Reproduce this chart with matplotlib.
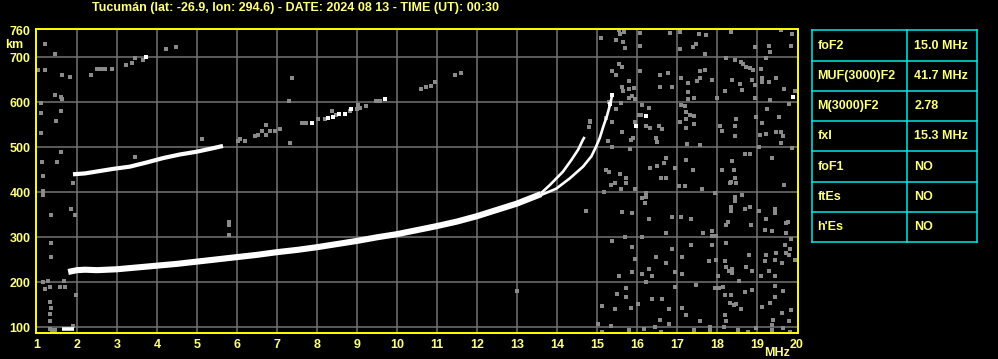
import matplotlib
matplotlib.use("Agg")
import matplotlib.pyplot as plt
from matplotlib.lines import Line2D

# ---------------- data ----------------
title = "Tucumán (lat: -26.9, lon: 294.6) - DATE: 2024 08 13 - TIME (UT): 00:30"

x_ticks = list(range(1, 21))
y_ticks = [100, 200, 300, 400, 500, 600, 700, 760]

# first-hop F2 trace (combined)
main_f = [1.78, 2.0, 2.2, 2.5, 3.0, 3.5, 4.0, 4.5, 5.0, 5.5, 6.0, 6.5, 7.0, 7.5,
          8.0, 8.5, 9.0, 9.5, 10.0, 10.5, 11.0, 11.5, 12.0, 12.5, 13.0, 13.4, 13.6]
main_km = [223, 227, 228, 227, 229, 233, 237, 241, 246, 251, 256, 261, 267, 272,
           278, 285, 292, 300, 307, 316, 325, 335, 347, 361, 375, 389, 396]

# ordinary branch near cusp
o_f = [13.6, 13.82, 14.15, 14.36, 14.53, 14.65, 14.69]
o_km = [398, 416, 446, 472, 495, 517, 523]

# extraordinary branch near cusp
x_f = [13.6, 13.98, 14.32, 14.65, 14.86, 14.98, 15.07, 15.15, 15.25, 15.33, 15.38]
x_km = [394, 408, 431, 457, 480, 502, 521, 544, 570, 596, 616]

# second-hop trace
h2_f = [1.9, 2.2, 2.48, 2.9, 3.32, 3.73, 4.15, 4.57, 4.98, 5.35, 5.65]
h2_km = [440, 442, 446, 452, 457, 466, 476, 484, 490, 497, 503]

# low-frequency echo near 100 km
e_f = [1.62, 1.92]
e_km = [97, 97]

# bright isolated echoes
white_f = [3.73, 7.88, 8.27, 8.4, 8.55, 8.69, 8.86, 9.69, 15.38, 15.33, 16.23, 15.98, 19.9]
white_km = [701, 555, 566, 568, 575, 575, 585, 607, 616, 597, 569, 548, 612]

# grey scattered echoes / noise
noise_f = [
    15.09, 15.55, 15.58, 15.68, 15.48, 15.65, 15.69, 16.08, 16.08, 16.83, 17.08, 17.08,
    17.4, 17.48, 17.55, 17.73, 17.69, 18.34, 18.94, 19.3, 19.33, 19.59, 19.88, 19.84,
    18.23, 18.44, 18.59, 18.65, 18.73, 18.83, 18.9, 19.11, 19.23, 15.55, 15.63, 15.38,
    15.48, 15.79, 15.63, 15.65, 15.79, 15.93, 15.88, 15.94, 15.8, 16.08, 16.58, 16.78,
    16.88, 16.58, 17.09, 17.28, 17.28, 17.28, 17.43, 17.58, 17.69, 17.5, 17.58, 17.88,
    18.0, 18.19, 18.38, 18.58, 18.63, 18.88, 18.94, 18.94, 19.13, 19.13, 19.29, 19.48,
    19.68, 19.94, 19.33, 15.3, 15.59, 15.48, 15.23, 14.83, 15.38, 16.13, 16.29, 16.05,
    16.09, 15.94, 16.23, 16.33, 16.54, 16.63, 16.47, 16.5, 15.9, 15.84, 15.63, 15.28,
    15.38, 15.83, 17.09, 17.19, 17.23, 17.33, 17.43, 17.22, 17.08, 17.23, 17.43, 17.26,
    17.58, 18.08, 18.13, 18.44, 18.48, 18.44, 18.98, 19.13, 19.25, 19.54, 19.48, 19.6,
    19.65, 19.08, 19.22, 19.59, 19.79, 19.88, 19.05, 18.69, 18.83, 19.38, 16.73, 16.68,
    16.5, 16.33, 17.23, 16.94, 17.4, 18.13, 18.38, 18.42, 18.44, 18.35, 15.23, 15.29,
    15.58, 15.73, 16.59, 16.72,
    14.73, 15.18, 15.34, 15.44, 15.73, 15.59, 15.94, 15.63, 15.88, 16.13, 16.23, 16.19,
    16.23, 16.29, 16.73, 16.88, 17.09, 17.34, 17.04, 17.19, 17.63, 17.94, 18.33, 18.48,
    18.44, 18.63, 18.44, 18.34, 18.34, 18.69, 18.83, 19.04, 19.44, 19.44, 19.23, 18.84,
    18.28, 18.23, 19.19, 19.38, 19.73, 19.77, 19.73, 19.68, 19.84, 17.88, 17.88, 17.98,
    17.65, 15.38, 15.69, 16.13, 15.88, 15.94, 15.88, 16.13, 16.38, 16.29, 15.54, 16.48,
    16.73, 16.88, 17.13, 16.94, 17.13, 17.34, 17.79, 17.88, 17.98, 18.03, 18.19, 18.23,
    18.23, 18.29, 18.38, 18.38, 18.54, 18.73, 18.79, 18.88, 19.09, 19.19, 19.23, 19.29,
    19.44, 19.48, 19.63, 19.73, 19.79, 19.94, 19.83, 19.69, 19.44, 16.22, 16.94, 17.48,
    17.94, 18.05, 18.16, 18.19, 18.36, 18.33, 18.42, 18.48, 18.59, 18.69, 18.88, 19.13,
    19.33, 19.44, 19.44, 19.65, 19.63, 19.84, 19.81, 19.4, 19.38, 19.38, 19.65, 19.83,
    15.73, 15.73, 15.51, 15.13, 15.44, 15.84, 16.03, 16.38, 16.63, 16.58, 16.79, 17.13,
    17.23, 17.58, 16.81, 16.44, 16.17, 15.34, 15.03, 15.13, 15.8, 16.61, 17.43, 17.83,
    17.83, 18.52, 18.78, 18.97, 18.19, 18.23, 18.18,
    1.19, 1.44, 1.02, 1.19, 1.63, 1.83, 2.34, 2.5, 2.6, 2.7, 2.88, 3.23, 3.38, 3.44,
    3.65, 4.23, 4.48, 1.44, 1.59, 1.63, 1.09, 1.59, 1.09, 1.48, 1.09, 7.38, 7.29, 7.63,
    7.73, 6.73, 7.08, 6.63, 6.83, 6.94, 6.53, 6.73, 6.44, 6.08, 6.03, 6.19, 5.13, 7.33,
    7.65, 7.73, 8.03, 8.19, 8.38, 8.48, 8.82, 9.0, 9.03, 9.07, 9.23, 9.48, 9.57, 10.61,
    10.73, 10.84, 10.94, 11.44, 11.59, 14.8, 14.83,
    1.19, 1.33, 1.57, 1.71, 1.98, 1.33, 1.35, 1.33, 1.33, 1.32, 1.9, 13.0, 1.6, 1.12,
    1.49, 1.14, 1.89, 1.14, 1.14, 1.84, 1.95, 1.34, 5.8, 5.8, 5.8, 1.34, 1.34, 1.14,
    1.28, 1.67, 3.45, 1.46, 1.38, 1.45
]
noise_km = [
    743, 761, 751, 756, 739, 734, 721, 754, 725, 754, 756, 719,
    722, 730, 752, 749, 707, 756, 722, 726, 711, 761, 752, 725,
    698, 693, 690, 685, 679, 676, 672, 674, 698, 685, 679, 670,
    660, 648, 633, 624, 629, 631, 614, 608, 610, 670, 660, 665,
    635, 633, 655, 643, 622, 608, 609, 670, 672, 648, 653, 649,
    610, 625, 650, 640, 627, 650, 639, 610, 654, 644, 645, 655,
    629, 625, 604, 601, 599, 584, 566, 557, 556, 593, 588, 572,
    571, 557, 547, 543, 548, 540, 521, 511, 521, 517, 534, 515,
    500, 497, 594, 592, 579, 572, 569, 562, 557, 543, 551, 507,
    504, 548, 536, 548, 562, 526, 567, 553, 584, 567, 534, 534,
    525, 527, 530, 510, 597, 499, 500, 485, 485, 476, 476, 465,
    459, 455, 472, 454, 450, 450, 469, 450, 431, 424, 449, 446,
    441, 431, 431, 431,
    359, 401, 416, 421, 421, 407, 407, 357, 355, 387, 390, 377,
    398, 341, 310, 346, 346, 340, 413, 413, 407, 399, 420, 421,
    390, 394, 381, 368, 359, 363, 368, 359, 364, 355, 341, 327,
    333, 327, 316, 313, 331, 335, 309, 416, 296, 313, 303, 303,
    310, 292, 300, 301, 279, 252, 224, 219, 214, 230, 213, 257,
    244, 274, 257, 224, 219, 283, 248, 283, 250, 214, 248, 288,
    233, 226, 229, 221, 204, 233, 261, 226, 213, 248, 261, 226,
    250, 266, 242, 266, 261, 250, 273, 283, 213, 201, 190, 194,
    187, 187, 190, 172, 172, 153, 150, 152, 140, 179, 184, 146,
    155, 192, 168, 181, 131, 138, 113, 116, 94, 105, 98, 90,
    187, 168, 173, 147, 140, 144, 152, 164, 164, 116, 140, 144,
    127, 113, 107, 101, 96, 103, 107, 90, 94, 90, 95, 101,
    92, 94, 90, 98, 127, 113, 101,
    730, 708, 671, 671, 661, 656, 661, 675, 675, 675, 675, 682, 688, 699,
    693, 719, 723, 617, 612, 608, 599, 581, 576, 559, 532, 653, 603, 554,
    554, 550, 541, 536, 536, 536, 528, 528, 524, 519, 514, 514, 519, 510,
    553, 553, 563, 563, 580, 572, 580, 585, 595, 587, 591, 602, 602, 630,
    634, 637, 646, 660, 666, 544, 559,
    185, 190, 190, 190, 172, 157, 144, 130, 113, 96, 103, 181, 490, 468,
    468, 437, 421, 402, 395, 364, 350, 350, 335, 328, 305, 288, 257, 201,
    202, 202, 479, 707, 95, 95
]

table_labels = ["foF2", "MUF(3000)F2", "M(3000)F2", "fxI", "foF1", "ftEs", "h'Es"]
table_values = ["15.0 MHz", "41.7 MHz", "2.78", "15.3 MHz", "NO", "NO", "NO"]

# ---------------- style ----------------
W, H = 998, 359
BG = "black"
TXT = "#ffff80"
FRAME = "#ffff00"
GRID = "#747474"
NOISE = "#8a8a8a"
CYAN = "#00e8e8"
FONT = ["Liberation Sans", "DejaVu Sans"]

fig = plt.figure(figsize=(W / 100, H / 100), dpi=100, facecolor=BG)

# main axes: pixel box x 36..798, y 29.3..333.3
ax_l, ax_r, ax_t, ax_b = 36, 798, 29.3, 333.3
ax = fig.add_axes([ax_l / W, (H - ax_b) / H, (ax_r - ax_l) / W, (ax_b - ax_t) / H])
ax.set_facecolor(BG)
ax.set_xlim(0.975, 20.025)
ax.set_ylim(86.7, 762.2)

for v in range(2, 20):
    ax.axvline(v, color=GRID, lw=1.1, zorder=1)
for v in range(100, 701, 100):
    ax.axhline(v, color=GRID, lw=1.1, zorder=1)

ax.scatter(noise_f, noise_km, s=5.5, marker="s", color=NOISE, linewidths=0, zorder=2)
ax.plot(h2_f, h2_km, color="white", lw=3.0, solid_capstyle="butt", zorder=3)
ax.plot(main_f, main_km, color="white", lw=4.4, solid_capstyle="butt", zorder=3)
ax.plot(o_f, o_km, color="white", lw=1.9, solid_capstyle="butt", zorder=3)
ax.plot(x_f, x_km, color="white", lw=1.9, solid_capstyle="butt", zorder=3)
ax.plot(e_f, e_km, color="white", lw=2.6, solid_capstyle="butt", zorder=3)
ax.scatter(white_f, white_km, s=5.5, marker="s", color="white", linewidths=0, zorder=3)

for sp in ax.spines.values():
    sp.set_color(FRAME)
    sp.set_linewidth(1.4)

ax.set_xticks(x_ticks)
ax.set_xticklabels([str(t) for t in x_ticks])
ax.set_yticks(y_ticks)
ax.set_yticklabels([str(t) for t in y_ticks])
ax.tick_params(axis="both", length=0, colors=TXT, labelsize=9)
ax.tick_params(axis="x", pad=4)
ax.tick_params(axis="y", pad=4)
for lab in ax.get_xticklabels() + ax.get_yticklabels():
    lab.set_fontweight("bold")
    lab.set_family(FONT)
    lab.set_color(TXT)

# axis unit labels
fig.text(14 / W, 1 - 45 / H, "km", color=TXT, fontsize=9, fontweight="bold",
         family=FONT, ha="center", va="center")
fig.text(777 / W, 1 - 353 / H, "MHz", color=TXT, fontsize=9, fontweight="bold",
         family=FONT, ha="center", va="center")

# title
fig.text(92 / W, 1 - 7.5 / H, title, color=TXT, fontsize=9, fontweight="bold",
         family=FONT, ha="left", va="center")

# ---------------- parameter table ----------------
tx0, tx1, tcol = 812.3, 977.3, 907.3
row_lines = [30.3, 61.3, 91.3, 121.3, 151.3, 182.3, 212.3, 242.3]
tab = fig.add_axes([0, 0, 1, 1], facecolor="none")
tab.set_xlim(0, W)
tab.set_ylim(H, 0)
tab.axis("off")
for yl in row_lines:
    tab.add_line(Line2D([tx0, tx1], [yl, yl], color=CYAN, lw=1.1))
for xl in (tx0, tcol, tx1):
    tab.add_line(Line2D([xl, xl], [row_lines[0], row_lines[-1]], color=CYAN, lw=1.1))
for i, (lab, val) in enumerate(zip(table_labels, table_values)):
    yc = (row_lines[i] + row_lines[i + 1]) / 2
    tab.text(tx0 + 5, yc, lab, color=TXT, fontsize=9, fontweight="bold", family=FONT,
             ha="left", va="center")
    tab.text(tcol + 7, yc, val, color=TXT, fontsize=9, fontweight="bold", family=FONT,
             ha="left", va="center")

fig.savefig("out.png", dpi=100, facecolor=BG)
